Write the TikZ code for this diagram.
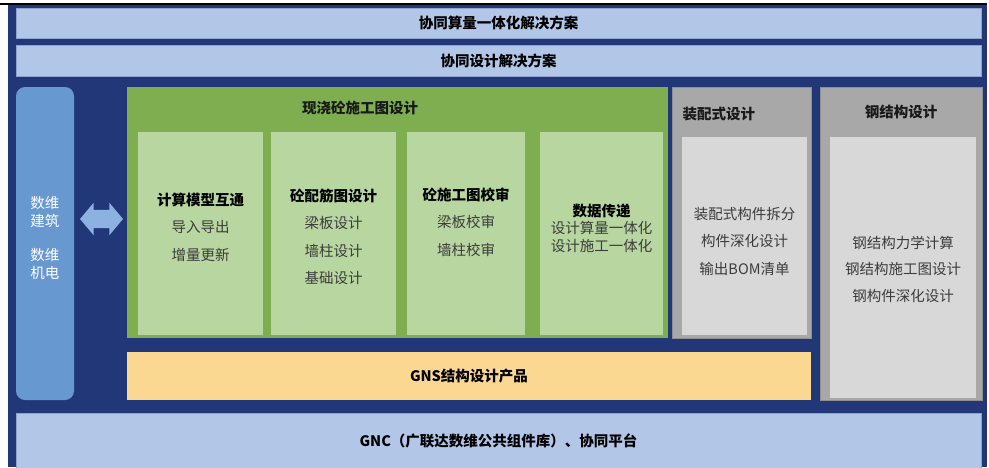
\documentclass[tikz,border=0pt]{standalone}
\usepackage{fontspec}
\setmainfont{Noto Sans CJK SC}
\usetikzlibrary{shapes.arrows}
\definecolor{navy}{RGB}{33,55,120}
\definecolor{barblue}{RGB}{178,198,232}
\definecolor{sideblue}{RGB}{104,152,208}
\definecolor{arrowblue}{RGB}{140,178,226}
\definecolor{leaf}{RGB}{126,174,80}
\definecolor{leaflight}{RGB}{184,214,160}
\definecolor{stone}{RGB}{168,168,168}
\definecolor{stonelight}{RGB}{216,216,216}
\definecolor{sand}{RGB}{250,216,145}
\definecolor{bodytext}{RGB}{60,60,60}
\tikzset{
  box/.style={anchor=north west, inner sep=0pt, outer sep=0pt},
  bar/.style={box, fill=barblue, draw=barblue!75!navy, line width=0.6pt, font=\bfseries\fontsize{14.5}{17}\selectfont},
  side/.style={box, fill=sideblue, rounded corners=9pt},
  panel/.style={box, fill=leaf},
  cell/.style={box, fill=leaflight},
  grey/.style={box, fill=stone, draw=stone!85!black, line width=0.5pt},
  greycell/.style={box, fill=stonelight},
  prod/.style={box, fill=sand, font=\bfseries\fontsize{14.5}{17}\selectfont},
  head/.style={font=\bfseries\fontsize{14.5}{17}\selectfont, text=black!90},
  body/.style={align=center, text=bodytext, font=\fontsize{14.5}{27.5}\selectfont},
  biarrow/.style={double arrow, fill=arrowblue, inner xsep=0pt, inner ysep=9pt,
    minimum height=43pt, double arrow head extend=7pt, double arrow tip angle=100},
}
\begin{document}
\begin{tikzpicture}[x=1pt, y=-1pt]
  \useasboundingbox (0,0) rectangle (989,467);
  \fill[navy] (8,5) rectangle (987,467);
  \coordinate (rulel) at (0,3.5);
  \coordinate (ruler) at (987,3.5);
  \draw[line width=2pt] (rulel) -- (ruler);

  % top bars
  \node[bar, minimum width=965pt, minimum height=30pt] (plan1) at (16,8) {协同算量一体化解决方案};
  \node[bar, minimum width=965pt, minimum height=31pt] (plan2) at (16,45) {协同设计解决方案};

  % left column
  \node[side, minimum width=58pt, minimum height=313pt] (side) at (16,87) {};
  \node[align=center, text=white, font=\fontsize{14.5}{18}\selectfont] (sidetxt) at (45,238)
    {数维\\建筑\\[16pt]数维\\机电};
  \node[biarrow] (link) at (101.5,219) {};

  % cast-in-place panel
  \node[panel, minimum width=541pt, minimum height=251pt] (cast) at (127,87) {};
  \node[head] (casthd) at (360,108) {现浇砼施工图设计};
  \node[cell, minimum width=125pt, minimum height=203pt] (c1) at (138,132) {};
  \node[cell, minimum width=125pt, minimum height=203pt] (c2) at (271,132) {};
  \node[cell, minimum width=118pt, minimum height=203pt] (c3) at (407,132) {};
  \node[cell, minimum width=123pt, minimum height=203pt] (c4) at (540,132) {};
  \node[body] (c1txt) at (c1.center |- 0,227) {\textbf{\color{black}计算模型互通}\\导入导出\\增量更新};
  \node[body] (c2txt) at (c2.center |- 0,237) {\textbf{\color{black}砼配筋图设计}\\梁板设计\\墙柱设计\\基础设计};
  \node[body] (c3txt) at (c3.center |- 0,222) {\textbf{\color{black}砼施工图校审}\\梁板校审\\墙柱校审};
  \node[body, font=\fontsize{14.5}{17.5}\selectfont] (c4txt) at (c4.center |- 0,228)
    {\textbf{\color{black}数据传递}\\设计算量一体化\\设计施工一体化};

  % precast panel
  \node[grey, minimum width=139pt, minimum height=251pt] (pre) at (672,87) {};
  \node[head, anchor=west] (prehd) at (679,114) {装配式设计};
  \node[greycell, minimum width=125pt, minimum height=198pt] (precell) at (682,137) {};
  \node[body] (pretxt) at (precell.center |- 0,241) {装配式构件拆分\\构件深化设计\\输出BOM清单};

  % steel panel
  \node[grey, minimum width=162pt, minimum height=313pt] (steel) at (820,87) {};
  \node[head] (steelhd) at (steel.center |- 0,112) {钢结构设计};
  \node[greycell, minimum width=146pt, minimum height=261pt] (steelcell) at (830,137) {};
  \node[body, font=\fontsize{14.5}{26.5}\selectfont] (steeltxt) at (steelcell.center |- 0,269)
    {钢结构力学计算\\钢结构施工图设计\\钢构件深化设计};

  % product and platform bars
  \node[prod, minimum width=684pt, minimum height=48pt] (gns) at (127,352) {GNS结构设计产品};
  \node[bar, minimum width=965pt, minimum height=55pt] (gnc) at (16,413) {GNC（广联达数维公共组件库）、协同平台};
\end{tikzpicture}
\end{document}
